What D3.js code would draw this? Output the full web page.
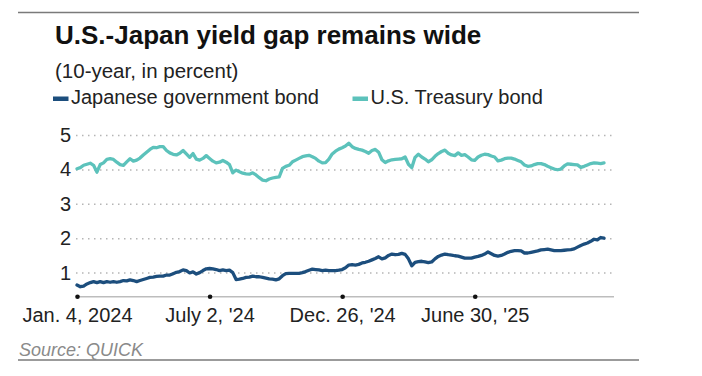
<!DOCTYPE html>
<html>
<head>
<meta charset="utf-8">
<script src="https://cdn.jsdelivr.net/npm/d3@7"></script>
<style>
  html, body { margin: 0; padding: 0; background: #fff; }
  svg { display: block; font-family: "Liberation Sans", Arial, sans-serif; }
</style>
</head>
<body>
<svg id="chart" width="702" height="376"></svg>
<script>
// 10-year yields, one reading every ~3.3px of the original picture (trading-day index)
const jgb = [
  0.64, 0.59, 0.61, 0.67, 0.71, 0.74, 0.71, 0.74, 0.71, 0.74,
  0.72, 0.74, 0.72, 0.74, 0.77, 0.76, 0.79, 0.77, 0.74, 0.77,
  0.80, 0.83, 0.86, 0.87, 0.89, 0.90, 0.90, 0.93, 0.93, 0.97,
  1.01, 1.03, 1.08, 1.06, 0.99, 1.02, 0.96, 1.00, 1.06, 1.11,
  1.12, 1.11, 1.09, 1.06, 1.08, 1.06, 1.07, 1.00, 0.80, 0.81,
  0.83, 0.86, 0.87, 0.90, 0.88, 0.88, 0.86, 0.84, 0.82, 0.81,
  0.79, 0.82, 0.91, 0.97, 0.98, 0.98, 0.98, 0.98, 1.00, 1.03,
  1.07, 1.10, 1.09, 1.08, 1.06, 1.07, 1.06, 1.06, 1.06, 1.07,
  1.09, 1.14, 1.22, 1.23, 1.22, 1.24, 1.28, 1.30, 1.33, 1.37,
  1.41, 1.46, 1.40, 1.43, 1.50, 1.54, 1.52, 1.53, 1.56, 1.53,
  1.40, 1.20, 1.30, 1.32, 1.33, 1.31, 1.29, 1.31, 1.40, 1.47,
  1.51, 1.54, 1.52, 1.51, 1.49, 1.48, 1.45, 1.42, 1.42, 1.42,
  1.45, 1.47, 1.50, 1.54, 1.60, 1.55, 1.50, 1.48, 1.50, 1.54,
  1.59, 1.62, 1.64, 1.64, 1.63, 1.57, 1.57, 1.59, 1.61, 1.63,
  1.66, 1.67, 1.68, 1.66, 1.64, 1.64, 1.64, 1.65, 1.66, 1.67,
  1.69, 1.74, 1.79, 1.83, 1.86, 1.91, 1.97, 1.95, 2.02, 2.00
];
const ust = [
  4.02, 4.05, 4.12, 4.15, 4.18, 4.12, 3.92, 4.14, 4.19, 4.29,
  4.31, 4.29, 4.21, 4.14, 4.12, 4.22, 4.31, 4.24, 4.27, 4.33,
  4.42, 4.50, 4.58, 4.64, 4.63, 4.66, 4.66, 4.55, 4.48, 4.44,
  4.42, 4.47, 4.55, 4.45, 4.35, 4.46, 4.30, 4.27, 4.32, 4.40,
  4.32, 4.24, 4.19, 4.21, 4.26, 4.21, 4.14, 3.90, 3.98, 3.93,
  3.89, 3.87, 3.86, 3.90, 3.84, 3.76, 3.69, 3.67, 3.72, 3.75,
  3.77, 3.78, 4.03, 4.09, 4.12, 4.22, 4.27, 4.32, 4.37, 4.39,
  4.41, 4.37, 4.32, 4.24, 4.19, 4.20, 4.30, 4.45, 4.53, 4.59,
  4.63, 4.68, 4.76, 4.66, 4.61, 4.58, 4.56, 4.52, 4.47, 4.55,
  4.58, 4.50, 4.28, 4.20, 4.25, 4.28, 4.29, 4.30, 4.31, 4.36,
  4.15, 4.05, 4.35, 4.44, 4.36, 4.30, 4.22, 4.28, 4.38, 4.46,
  4.52, 4.56, 4.47, 4.42, 4.40, 4.48, 4.41, 4.43, 4.36, 4.28,
  4.26, 4.36, 4.41, 4.44, 4.43, 4.39, 4.36, 4.25, 4.27, 4.31,
  4.33, 4.33, 4.30, 4.26, 4.22, 4.13, 4.09, 4.10, 4.14, 4.17,
  4.17, 4.14, 4.09, 4.05, 4.01, 3.99, 4.01, 4.10, 4.16, 4.15,
  4.14, 4.13, 4.06, 4.09, 4.13, 4.17, 4.19, 4.18, 4.17, 4.19
];
const tickIndex = [0, 40, 80, 120];
const tickLabels = ['Jan. 4, 2024', "July 2, '24", "Dec. 26, '24", "June 30, '25"];
const yTicks = [1, 2, 3, 4, 5];
const seriesNames = ['Japanese government bond', 'U.S. Treasury bond'];
const colors = ['#1c4e7d', '#5cc2bb'];

const svg = d3.select('#chart');
const plot = { left: 76, right: 614, top: 135, bottom: 296.7 };

// header / footer rules
svg.append('line').attr('x1', 18).attr('x2', 639).attr('y1', 12.5).attr('y2', 12.5)
  .attr('stroke', '#7a7a7a').attr('stroke-width', 1.5);
svg.append('line').attr('x1', 18).attr('x2', 639).attr('y1', 360).attr('y2', 360)
  .attr('stroke', '#7a7a7a').attr('stroke-width', 1.5);

svg.append('text').attr('x', 55).attr('y', 43.5)
  .attr('font-size', 26).attr('font-weight', 'bold').attr('fill', '#111')
  .text('U.S.-Japan yield gap remains wide');
svg.append('text').attr('x', 55).attr('y', 78)
  .attr('font-size', 20.5).attr('fill', '#222')
  .text('(10-year, in percent)');

// legend
const legendX = [53, 352.5];
const legend = svg.selectAll('g.legend')
  .data(seriesNames)
  .join('g')
  .attr('class', 'legend')
  .attr('transform', (d, i) => `translate(${legendX[i]},104)`);
legend.append('rect').attr('x', 0).attr('y', -7.5).attr('width', 15.5).attr('height', 4.5)
  .attr('fill', (d, i) => colors[i]);
legend.append('text').attr('x', 18).attr('y', 0)
  .attr('font-size', 20).attr('fill', '#222')
  .text((d) => d);

const x = d3.scaleLinear().domain([0, jgb.length - 1]).range([plot.left + 1, plot.right - 10]);
const y = d3.scaleLinear().domain([0.3, 5]).range([plot.bottom, plot.top]);

// y axis + dotted grid
const yAxis = svg.append('g')
  .attr('transform', `translate(${plot.left},0)`)
  .call(d3.axisLeft(y).tickValues(yTicks).tickFormat(d3.format('d'))
    .tickSize(-(plot.right - 2 - plot.left)).tickPadding(5));
yAxis.select('.domain').remove();
yAxis.selectAll('.tick line')
  .attr('stroke', '#b5b5b5').attr('stroke-width', 1.5).attr('stroke-dasharray', '1.5,4.5');
yAxis.selectAll('.tick text')
  .attr('font-size', 20).attr('fill', '#222').attr('font-family', null);

// x axis
svg.append('line').attr('x1', plot.left).attr('x2', plot.right)
  .attr('y1', plot.bottom).attr('y2', plot.bottom)
  .attr('stroke', '#bdbdbd').attr('stroke-width', 1.5);
const xAxis = svg.append('g')
  .attr('transform', `translate(0,${plot.bottom})`)
  .call(d3.axisBottom(x).tickValues(tickIndex).tickFormat((d, i) => tickLabels[i]).tickSize(0).tickPadding(10));
xAxis.select('.domain').remove();
xAxis.selectAll('.tick text')
  .attr('font-size', 20).attr('fill', '#222').attr('font-family', null).attr('dy', '0.75em');
xAxis.selectAll('.tick').append('circle').attr('r', 2.3).attr('fill', '#111');

// lines
const line = d3.line()
  .x((d, i) => x(i))
  .y((d) => y(d));
svg.selectAll('path.series')
  .data([jgb, ust])
  .join('path')
  .attr('class', 'series')
  .attr('d', (d) => line(d))
  .attr('fill', 'none')
  .attr('stroke', (d, i) => colors[i])
  .attr('stroke-width', 3.3)
  .attr('stroke-linejoin', 'round')
  .attr('stroke-linecap', 'round');

svg.append('text').attr('x', 19).attr('y', 356)
  .attr('font-size', 18).attr('font-style', 'italic').attr('fill', '#8a8a8a')
  .text('Source: QUICK');
</script>
</body>
</html>
